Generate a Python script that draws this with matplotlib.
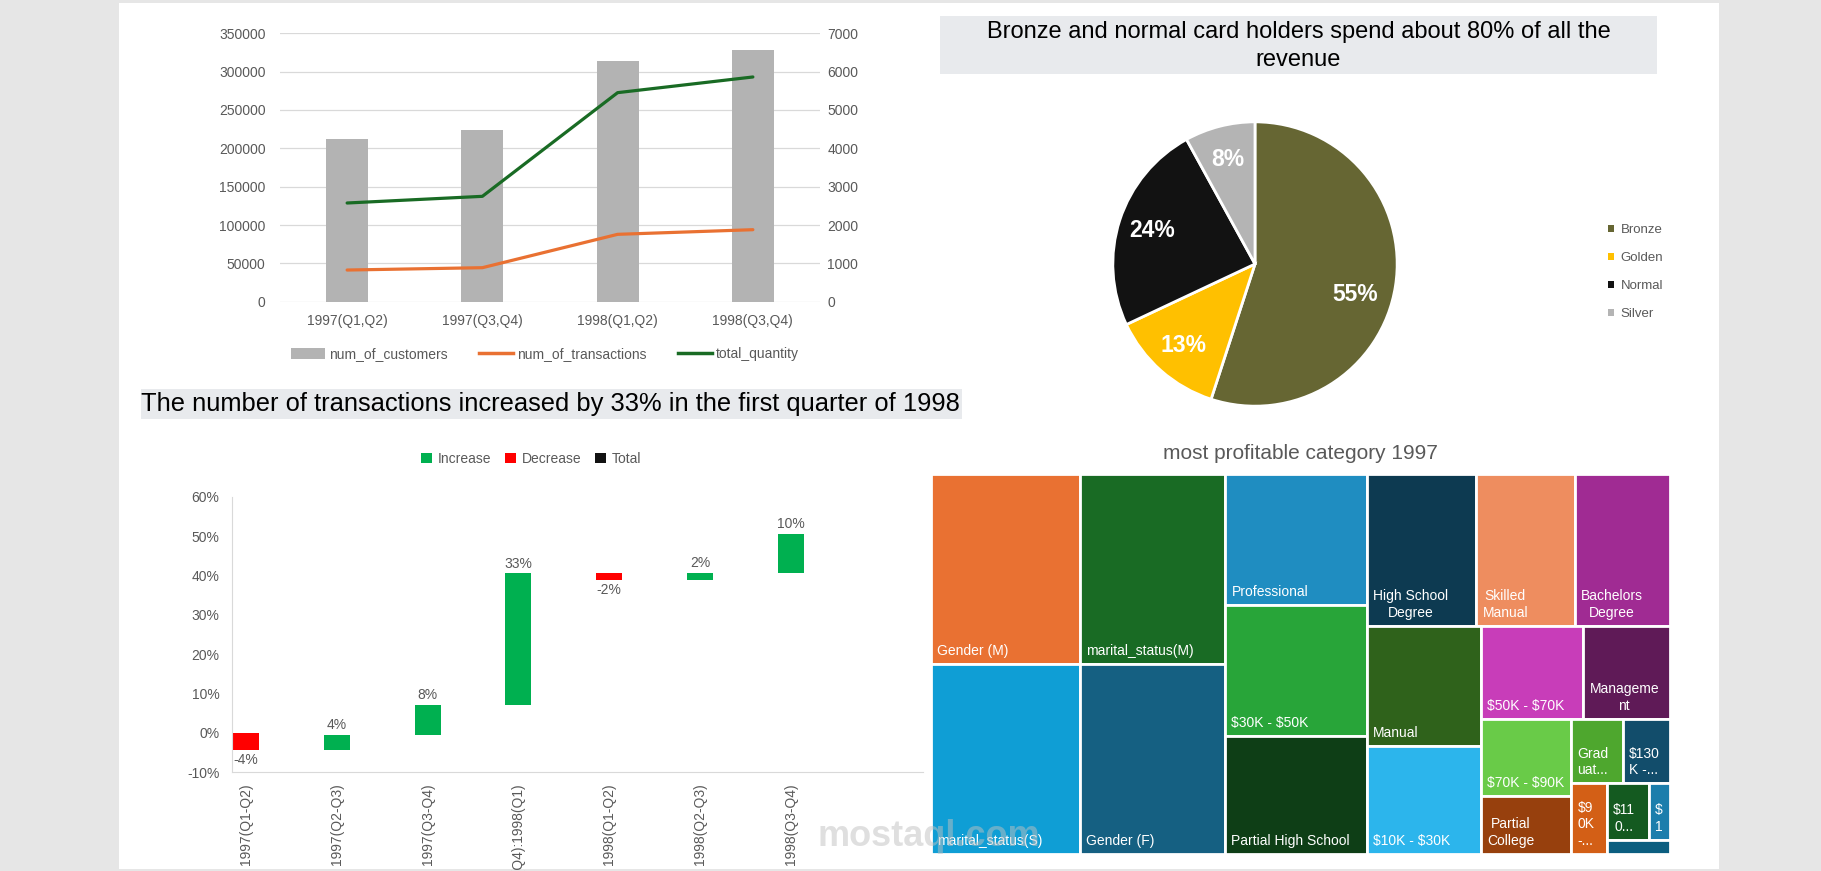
import matplotlib
matplotlib.use("Agg")
import matplotlib.pyplot as plt
import numpy as np
from matplotlib.lines import Line2D
from matplotlib.patches import Patch, Rectangle

plt.rcParams["font.family"] = ["Liberation Sans", "DejaVu Sans"]

W, H = 1821, 871
GREY_TEXT = "#595959"
AXIS_GREY = "#d9d9d9"
TITLE_BG = "#e8eaed"

# --- customers / transactions / quantity per half year
PERIODS = ["1997(Q1,Q2)", "1997(Q3,Q4)", "1998(Q1,Q2)", "1998(Q3,Q4)"]
NUM_CUSTOMERS = [212600, 223500, 314300, 328700]
NUM_TRANSACTIONS = [826, 887, 1757, 1878]
TOTAL_QUANTITY = [2574, 2748, 5452, 5861]

# --- revenue share by card type
CARD_TYPES = ["Bronze", "Golden", "Normal", "Silver"]
CARD_SHARE = [55, 13, 24, 8]
CARD_COLORS = ["#666633", "#ffc000", "#121212", "#b4b4b4"]

# --- quarter over quarter change in transactions (%)
STEPS = ["1997(Q1-Q2)", "1997(Q2-Q3)", "1997(Q3-Q4)", "1997(Q4):1998(Q1)",
         "1998(Q1-Q2)", "1998(Q2-Q3)", "1998(Q3-Q4)"]
STEP_CHANGE = [-4.4, 3.9, 7.6, 33.4, -1.8, 2.0, 9.9]

# --- most profitable category 1997 (treemap)
TREE_LABELS = ["Gender (M)", "marital_status(S)", "marital_status(M)", "Gender (F)",
               "Professional", "$30K - $50K", "Partial High School",
               "High School\nDegree", "Skilled\nManual", "Bachelors\nDegree",
               "Manual", "$10K - $30K", "$50K - $70K", "Manageme\nnt",
               "$70K - $90K", "Partial\nCollege", "Grad\nuat...", "$130\nK -...",
               "$9\n0K\n-...", "$11\n0...", "$\n1", ""]
TREE_PROFIT = [28300, 28200, 27700, 27650, 18540, 18470, 16700, 16590, 14850,
               14390, 13790, 12200, 9530, 8000, 6975, 5175, 3320, 3030, 2500,
               2400, 1160, 880]
TREE_COLORS = ["#e97132", "#0f9ed5", "#196b24", "#156082", "#1f8dc1", "#28a539",
               "#0e3e16", "#0d3a51", "#ee8d5f", "#a02b93", "#2f621b", "#2cb5ec",
               "#c83db9", "#5f1a57", "#69cb48", "#97400d", "#4ea72e", "#124d6b",
               "#d35f16", "#145a20", "#1c7eac", "#0b5e80"]
STRIP_SIZES = [2, 2, 3, 3, 2, 2, 2, 2, 1, 2, 1]


def box(x0, y0, x1, y1):
    return [x0 / W, 1 - y1 / H, (x1 - x0) / W, (y1 - y0) / H]


def fx(x):
    return x / W


def fy(y):
    return 1 - y / H


def strip_layout(values, sizes, x, y, w, h):
    rects = []
    i = 0
    for n in sizes:
        group = values[i:i + n]
        total = sum(group)
        if w >= h:
            sw = total / h
            yy = y
            for v in group:
                rects.append((x, yy, sw, v / sw))
                yy += v / sw
            x += sw
            w -= sw
        else:
            sh = total / w
            xx = x
            for v in group:
                rects.append((xx, y, v / sh, sh))
                xx += v / sh
            y += sh
            h -= sh
        i += n
    return rects


fig = plt.figure(figsize=(W / 100, H / 100), dpi=100, facecolor="#e6e6e6")
fig.patches.append(Rectangle((fx(119), fy(869)), 1600 / W, 866 / H,
                             transform=fig.transFigure, facecolor="white",
                             edgecolor="none", zorder=-10))

# ---------------- combo chart
ax1 = fig.add_axes(box(279.5, 33.3, 820.5, 301.7))
x = np.arange(len(PERIODS))
ax1.bar(x, NUM_CUSTOMERS, width=0.31, color="#b3b3b3", zorder=2)
ax1.set_xlim(-0.5, len(PERIODS) - 0.5)
ax1.set_ylim(0, 350000)
ax1.set_yticks(range(0, 350001, 50000))
ax1.set_xticks(x, PERIODS)
ax1.yaxis.grid(True, color=AXIS_GREY, lw=0.9)
ax1.set_axisbelow(True)
ax1.tick_params(axis="y", length=0, labelsize=10, labelcolor=GREY_TEXT, pad=10)
ax1.tick_params(axis="x", length=0, labelsize=10, labelcolor=GREY_TEXT, pad=9)
for s in ax1.spines.values():
    s.set_visible(False)

ax2 = ax1.twinx()
ax2.plot(x, NUM_TRANSACTIONS, color="#e97132", lw=2.3, solid_capstyle="round")
ax2.plot(x, TOTAL_QUANTITY, color="#196b24", lw=2.3, solid_capstyle="round")
ax2.set_ylim(0, 7000)
ax2.set_yticks(range(0, 7001, 1000))
ax2.tick_params(axis="y", length=0, labelsize=10, labelcolor=GREY_TEXT, pad=5)
for s in ax2.spines.values():
    s.set_visible(False)

combo_handles = [
    Patch(facecolor="#b3b3b3", label="num_of_customers"),
    Line2D([], [], color="#e97132", lw=2.5, label="num_of_transactions"),
    Line2D([], [], color="#196b24", lw=2.5, label="total_quantity"),
]
fig.legend(handles=combo_handles, loc="center", bbox_to_anchor=(fx(545), fy(354)),
           ncol=3, frameon=False, fontsize=10, labelcolor=GREY_TEXT,
           handlelength=2.4, handleheight=0.85, handletextpad=0.3, columnspacing=2.3)

# ---------------- pie
fig.patches.append(Rectangle((fx(940), fy(74)), (1657 - 940) / W, 58 / H,
                             transform=fig.transFigure, facecolor=TITLE_BG,
                             edgecolor="none", zorder=-5))
fig.text(fx(1298.5), fy(46), "Bronze and normal card holders spend about 80% of all the\nrevenue",
         ha="center", va="center", fontsize=17, color="black", linespacing=1.4)

axp = fig.add_axes(box(1110, 119, 1400, 409))
_, _, pct_texts = axp.pie(CARD_SHARE, colors=CARD_COLORS, startangle=90, counterclock=False,
                          wedgeprops=dict(edgecolor="white", linewidth=2),
                          autopct=lambda p: f"{p:.0f}%", pctdistance=0.76,
                          textprops=dict(color="white", fontsize=16.5, fontweight="bold"))
# Excel nudges the big slice's label lower along the arc
ang = np.deg2rad(-17)
pct_texts[0].set_position((0.74 * np.cos(ang), 0.74 * np.sin(ang)))
axp.set_xlim(-1.02, 1.02)
axp.set_ylim(-1.02, 1.02)
axp.set_aspect("equal")

pie_handles = [Patch(facecolor=c, label=t) for c, t in zip(CARD_COLORS, CARD_TYPES)]
fig.legend(handles=pie_handles, loc="center left", bbox_to_anchor=(fx(1596), fy(272)),
           frameon=False, fontsize=9.5, labelcolor=GREY_TEXT, handlelength=0.45,
           handleheight=0.45, handletextpad=0.5, labelspacing=1.2)

# ---------------- waterfall
fig.patches.append(Rectangle((fx(141), fy(419)), (962 - 141) / W, 30 / H,
                             transform=fig.transFigure, facecolor=TITLE_BG,
                             edgecolor="none", zorder=-5))
fig.text(fx(141), fy(404), "The number of transactions increased by 33% in the first quarter of 1998",
         ha="left", va="center", fontsize=18.4, color="black")

axw = fig.add_axes(box(232, 496.7, 923, 772))
change = np.array(STEP_CHANGE)
ends = np.cumsum(change)
starts = ends - change
colors = ["#00b050" if c >= 0 else "#ff0000" for c in change]
pos = np.arange(len(STEPS))
axw.bar(pos, change, bottom=starts, width=0.286, color=colors)
for p, c, s, e in zip(pos, change, starts, ends):
    if c >= 0:
        axw.annotate(f"{round(c):.0f}%", (p, max(s, e)), xytext=(0, 2),
                     textcoords="offset points", ha="center", va="bottom",
                     fontsize=10, color=GREY_TEXT)
    else:
        axw.annotate(f"{round(c):.0f}%", (p, min(s, e)), xytext=(0, -2),
                     textcoords="offset points", ha="center", va="top",
                     fontsize=10, color=GREY_TEXT)
axw.set_xlim(-0.154, 7.456)
axw.set_ylim(-10, 60)
axw.set_yticks(range(-10, 61, 10), [f"{v}%" for v in range(-10, 61, 10)])
axw.set_xticks(pos, STEPS, rotation=90)
axw.tick_params(axis="y", length=0, labelsize=10, labelcolor=GREY_TEXT, pad=9)
axw.tick_params(axis="x", length=0, labelsize=10, labelcolor=GREY_TEXT, pad=8)
for side in ["top", "right"]:
    axw.spines[side].set_visible(False)
for side in ["left", "bottom"]:
    axw.spines[side].set_color(AXIS_GREY)
axw.set_facecolor("none")

wf_handles = [Patch(facecolor="#00b050", label="Increase"),
              Patch(facecolor="#ff0000", label="Decrease"),
              Patch(facecolor="#121212", label="Total")]
fig.legend(handles=wf_handles, loc="center", bbox_to_anchor=(fx(531), fy(459)),
           ncol=3, frameon=False, fontsize=10, labelcolor=GREY_TEXT,
           handlelength=0.8, handleheight=0.8, handletextpad=0.4, columnspacing=1.0)

# ---------------- treemap
tx0, ty0, tx1, ty1 = 930.7, 474, 1669.5, 853.5
tw, th = tx1 - tx0, ty1 - ty0
axt = fig.add_axes(box(tx0, ty0, tx1, ty1))
axt.set_xlim(0, tw)
axt.set_ylim(th, 0)
axt.axis("off")
scale = tw * th / sum(TREE_PROFIT)
rects = strip_layout([v * scale for v in TREE_PROFIT], STRIP_SIZES, 0, 0, tw, th)
for (rx, ry, rw, rh), lab, col in zip(rects, TREE_LABELS, TREE_COLORS):
    axt.add_patch(Rectangle((rx, ry), rw, rh, facecolor=col, edgecolor="white", lw=2))
    if lab:
        axt.text(rx + 6, ry + rh - 6, lab, ha="left", va="bottom",
                 multialignment="center", fontsize=10, color="white",
                 parse_math=False)

fig.text(fx(1300), fy(453), "most profitable category 1997", ha="center", va="center",
         fontsize=15, color=GREY_TEXT)

# watermark
fig.text(fx(929), fy(836), "mostaql.com", ha="center", va="center", fontsize=26,
         fontweight="bold", color="#c0c0c0", alpha=0.5, zorder=10)

fig.savefig("out.png", dpi=100, facecolor=fig.get_facecolor())
